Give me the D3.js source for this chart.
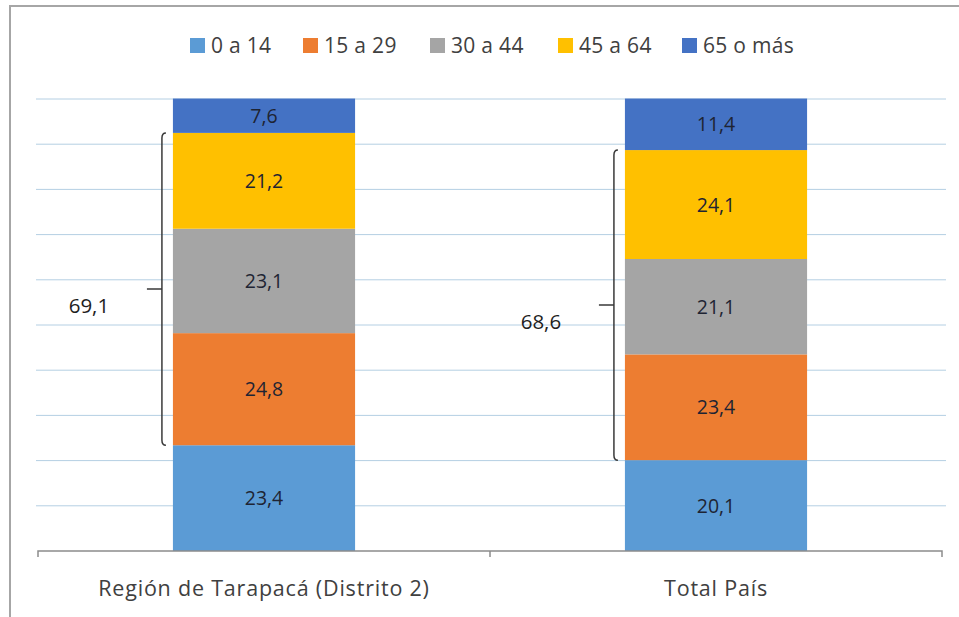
<!DOCTYPE html>
<html>
<head>
<meta charset="utf-8">
<script src="https://cdn.jsdelivr.net/npm/d3@7"></script>
<style>
  body { margin: 0; background: #fff; }
  text { font-family: "Open Sans", Lato, sans-serif; }
</style>
</head>
<body>
<svg width="959" height="617"></svg>
<script>
// data
const categories = ["Región de Tarapacá (Distrito 2)", "Total País"]
const groups = ["0 a 14", "15 a 29", "30 a 44", "45 a 64", "65 o más"]
const colors = ["#5b9bd5", "#ed7d31", "#a5a5a5", "#ffc000", "#4472c4"]
const values = [
  [23.4, 24.8, 23.1, 21.2, 7.6],
  [20.1, 23.4, 21.1, 24.1, 11.4]
]
const bracketLabels = ["69,1", "68,6"]
const yTicks = [0, 10, 20, 30, 40, 50, 60, 70, 80, 90, 100]

const svg = d3.select("svg")

// chart frame (only top and left edges show)
svg.append("path")
  .attr("d", "M10,617 L10,6 L959,6")
  .attr("fill", "none")
  .attr("stroke", "#a6a6a6")
  .attr("stroke-width", 2)

const x = d3.scaleBand()
  .domain(categories)
  .range([38, 942])
  .paddingInner(0.597)
  .paddingOuter(0.2985)

const y = d3.scaleLinear()
  .domain([0, 100])
  .range([551, 99])

// gridlines
svg.append("g")
  .selectAll("line")
  .data(yTicks.slice(1))
  .join("line")
  .attr("x1", 36)
  .attr("x2", 946)
  .attr("y1", d => y(d))
  .attr("y2", d => y(d))
  .attr("stroke", "#b4cfe3")
  .attr("stroke-width", 1)

// stack
const rows = categories.map((c, i) => {
  const r = {cat: c}
  groups.forEach((g, j) => r[g] = values[i][j])
  return r
})
const series = d3.stack().keys(groups)(rows)

const layer = svg.append("g")
  .selectAll("g")
  .data(series)
  .join("g")
  .attr("fill", (d, i) => colors[i])

layer.selectAll("rect")
  .data(d => d)
  .join("rect")
  .attr("x", d => x(d.data.cat))
  .attr("width", x.bandwidth())
  .attr("y", d => y(d[1]))
  .attr("height", d => y(d[0]) - y(d[1]))

// value labels
layer.selectAll("text")
  .data(d => d.map(v => ({v: v, key: d.key})))
  .join("text")
  .attr("x", d => x(d.v.data.cat) + x.bandwidth() / 2)
  .attr("y", d => (y(d.v[0]) + y(d.v[1])) / 2 + 7)
  .attr("text-anchor", "middle")
  .attr("fill", "#1e2433")
  .style("font-size", "19.5px")
  .text(d => d3.format(".1f")(d.v.data[d.key]).replace(".", ","))

// x axis
const xAxis = d3.axisBottom(x).tickSize(0).tickPadding(0)
const xg = svg.append("g")
  .attr("transform", "translate(0,551)")
  .call(xAxis)
xg.select(".domain").remove()
xg.selectAll("text").remove()
xg.append("path")
  .attr("d", "M38,6 L38,0 L942,0 L942,6 M490,0 L490,6")
  .attr("fill", "none")
  .attr("stroke", "#8c8c8c")
  .attr("stroke-width", 1.5)
xg.selectAll(".cat")
  .data(categories)
  .join("text")
  .attr("class", "cat")
  .attr("x", d => x(d) + x.bandwidth() / 2)
  .attr("y", 45)
  .attr("text-anchor", "middle")
  .attr("fill", "#404040")
  .style("font-size", "21.5px")
  .style("letter-spacing", "0.8px")
  .text(d => d)

// brackets over 15-64 groups
categories.forEach((c, i) => {
  const top = y(d3.sum(values[i].slice(0, 4)))
  const bot = y(values[i][0])
  const bx = x(c) - 11
  const mid = (top + bot) / 2
  svg.append("path")
    .attr("d", `M${bx + 4},${top} Q${bx},${top} ${bx},${top + 5} L${bx},${bot - 5} Q${bx},${bot} ${bx + 4},${bot} M${bx},${mid} L${bx - 15},${mid}`)
    .attr("fill", "none")
    .attr("stroke", "#3a3a3a")
    .attr("stroke-width", 1.5)
  svg.append("text")
    .attr("x", bx - 73)
    .attr("y", mid + 24)
    .attr("text-anchor", "middle")
    .attr("fill", "#1e1e1e")
    .style("font-size", "20.5px")
    .text(bracketLabels[i])
})

// legend
const legendX = [190, 303, 430, 558, 682]
const lg = svg.append("g")
  .selectAll("g")
  .data(groups)
  .join("g")
  .attr("transform", (d, i) => `translate(${legendX[i]},38)`)
lg.append("rect")
  .attr("width", 15)
  .attr("height", 15)
  .attr("fill", (d, i) => colors[i])
lg.append("text")
  .attr("x", 21)
  .attr("y", 15)
  .attr("fill", "#404040")
  .style("font-size", "21px")
  .style("letter-spacing", "0.3px")
  .text(d => d)
</script>
</body>
</html>
